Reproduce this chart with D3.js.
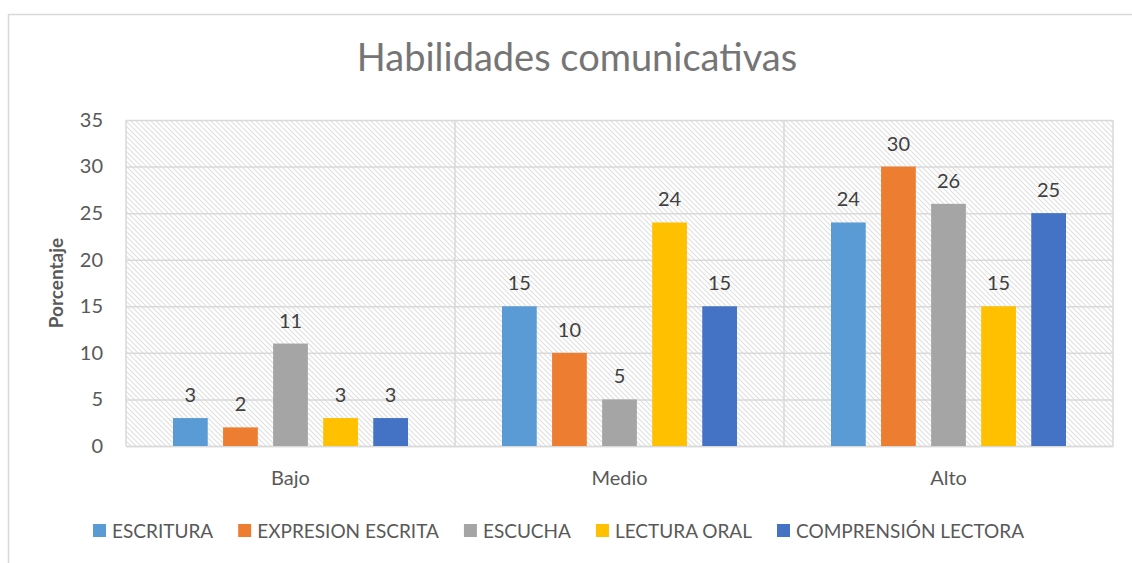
<!DOCTYPE html>
<html><head><meta charset="utf-8">
<script src="https://cdn.jsdelivr.net/npm/d3@7"></script>
<style>
html,body{margin:0;padding:0;background:#fff;}
svg{display:block;font-family:Lato,"Open Sans",sans-serif;}
</style></head>
<body><svg id="c" width="1132" height="563"></svg>
<script>
const title = "Habilidades comunicativas";
const yTitle = "Porcentaje";
const categories = ["Bajo", "Medio", "Alto"];
const seriesNames = ["ESCRITURA", "EXPRESION ESCRITA", "ESCUCHA", "LECTURA ORAL", "COMPRENSIÓN LECTORA"];
const seriesColors = ["#5B9BD5", "#ED7D31", "#A5A5A5", "#FFC000", "#4472C4"];
const escritura = [3, 15, 24];
const expresionEscrita = [2, 10, 30];
const escucha = [11, 5, 26];
const lecturaOral = [3, 24, 15];
const comprensionLectora = [3, 15, 25];
const yTicks = [0, 5, 10, 15, 20, 25, 30, 35];

const seriesValues = [escritura, expresionEscrita, escucha, lecturaOral, comprensionLectora];

const svg = d3.select("#c");
const plot = {left: 126, right: 1113, top: 120, bottom: 446};
const FS = 20;

const defs = svg.append("defs");
const pat = defs.append("pattern").attr("id","hatch").attr("patternUnits","userSpaceOnUse")
  .attr("width",5).attr("height",5);
pat.append("rect").attr("width",5).attr("height",5).attr("fill","#fff");
pat.append("path").attr("d","M-1,-1 L6,6 M-1,4 L1,6 M4,-1 L6,1")
  .attr("stroke","#e0e0e0").attr("stroke-width",1.1);

// outer frame
svg.append("rect").attr("x",8.5).attr("y",14.5).attr("width",1200).attr("height",600)
  .attr("fill","#fff").attr("stroke","#d9d9d9").attr("stroke-width",1.5);

// title
svg.append("text").attr("x",577).attr("y",71).attr("text-anchor","middle")
  .attr("font-size",38).attr("fill","#757575").text(title);

const x0 = d3.scaleBand().domain(categories).range([plot.left, plot.right]).padding(0);
const x1 = d3.scaleBand().domain(seriesNames).range([47, x0.bandwidth()-47]).paddingInner(0.306).paddingOuter(0);
const y = d3.scaleLinear().domain([0, 35]).range([plot.bottom, plot.top]);

// plot background hatch
svg.append("rect").attr("x",plot.left).attr("y",plot.top)
  .attr("width",plot.right-plot.left).attr("height",plot.bottom-plot.top)
  .attr("fill","url(#hatch)");

// horizontal gridlines
const yAxis = d3.axisLeft(y).tickValues(yTicks).tickSize(-(plot.right-plot.left)).tickPadding(23);
const gy = svg.append("g").attr("transform",`translate(${plot.left},0)`).call(yAxis);
gy.attr("font-size",FS).attr("font-family","Lato,sans-serif");
gy.select(".domain").remove();
gy.selectAll(".tick line").attr("stroke","#d9d9d9").attr("stroke-width",1.5);
gy.selectAll(".tick text").attr("fill","#595959");

// vertical category separators
const bounds = categories.map(c => x0(c)).concat([plot.right]);
svg.append("g").selectAll("line").data(bounds).join("line")
  .attr("x1",d=>d).attr("x2",d=>d).attr("y1",plot.top).attr("y2",plot.bottom)
  .attr("stroke","#d9d9d9").attr("stroke-width",1.5);

// x axis
const xAxis = d3.axisBottom(x0).tickSize(0).tickPadding(25);
const gx = svg.append("g").attr("transform",`translate(0,${plot.bottom})`).call(xAxis);
gx.attr("font-size",FS).attr("font-family","Lato,sans-serif");
gx.select(".domain").attr("stroke","#d9d9d9").attr("stroke-width",1.5);
gx.selectAll(".tick text").attr("fill","#595959");

// bars
seriesNames.forEach((s, si) => {
  const g = svg.append("g");
  const data = categories.map((c, ci) => ({c, v: seriesValues[si][ci]}));
  g.selectAll("rect").data(data).join("rect")
    .attr("x", d => x0(d.c) + x1(s))
    .attr("y", d => y(d.v))
    .attr("width", x1.bandwidth())
    .attr("height", d => y(0) - y(d.v))
    .attr("fill", seriesColors[si]);
  g.selectAll("text").data(data).join("text")
    .attr("x", d => x0(d.c) + x1(s) + x1.bandwidth()/2)
    .attr("y", d => y(d.v) - 16)
    .attr("text-anchor","middle").attr("font-size",FS).attr("fill","#404040")
    .text(d => d.v);
});

// y title
svg.append("text").attr("transform",`translate(63,${(plot.top+plot.bottom)/2}) rotate(-90)`)
  .attr("text-anchor","middle").attr("font-size",19).attr("font-weight","bold")
  .attr("fill","#595959").text(yTitle);

// legend
const lg = svg.append("g");
let cx = 0;
seriesNames.forEach((s, i) => {
  const g = lg.append("g");
  g.append("rect").attr("x",0).attr("y",-7).attr("width",13).attr("height",13).attr("fill",seriesColors[i]);
  const t = g.append("text").attr("x",19).attr("y",0).attr("dy","0.35em")
    .attr("font-size",19).attr("fill","#595959").text(s);
  const w = 19 + t.node().getComputedTextLength();
  g.attr("transform",`translate(${cx},0)`);
  cx += w + 25;
});
const total = cx - 25;
lg.attr("transform",`translate(${558.5 - total/2},531)`);
</script></body></html>
